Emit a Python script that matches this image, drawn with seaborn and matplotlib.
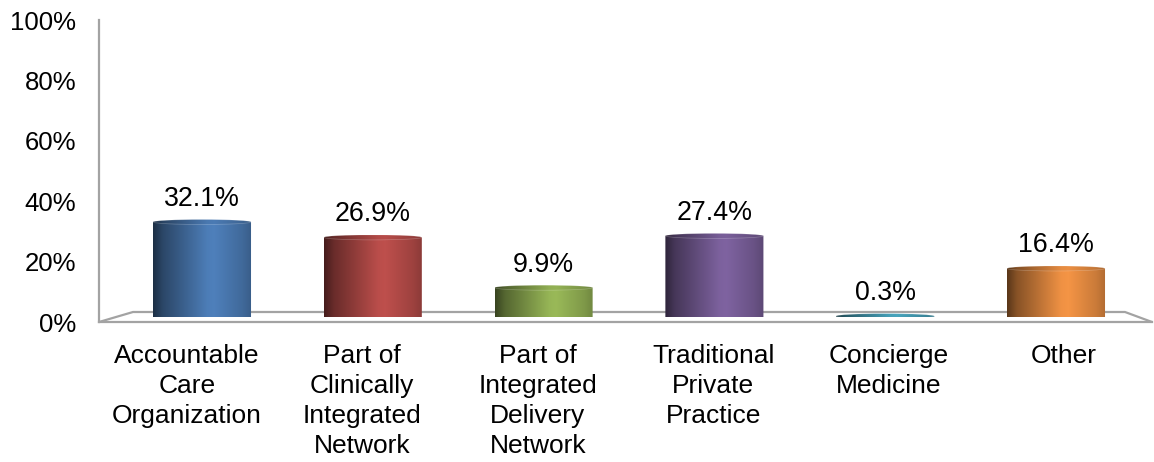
import numpy as np
import matplotlib
matplotlib.use("Agg")
import matplotlib.pyplot as plt
from matplotlib.patches import Polygon, Ellipse
from matplotlib.colors import to_rgb
import seaborn as sns

# ---- data -------------------------------------------------------------
categories = [
    "Accountable Care Organization",
    "Part of Clinically Integrated Network",
    "Part of Integrated Delivery Network",
    "Traditional Private Practice",
    "Concierge Medicine",
    "Other",
]
tick_labels = [
    "Accountable\nCare\nOrganization",
    "Part of\nClinically\nIntegrated\nNetwork",
    "Part of\nIntegrated\nDelivery\nNetwork",
    "Traditional\nPrivate\nPractice",
    "Concierge\nMedicine",
    "Other",
]
shares = [32.1, 26.9, 9.9, 27.4, 0.3, 16.4]
y_ticks = [0, 20, 40, 60, 80, 100]
bar_colors = ["#4F81BD", "#C0504D", "#9BBB59", "#8064A2", "#4BACC6", "#F79646"]

# ---- style ------------------------------------------------------------
sns.set_theme(style="white")
plt.rcParams["font.family"] = ["Liberation Sans", "DejaVu Sans"]
TEXT = "#000000"
FRAME = "#A3A3A3"

W, H = 1154, 462
fig = plt.figure(figsize=(W / 100, H / 100), dpi=100)
fig.patch.set_facecolor("white")


def px_rect(left, top, right, bottom):
    return [left / W, 1 - bottom / H, (right - left) / W, (bottom - top) / H]


# ---- front frame: value axis, floor and category labels -----------------
ax = fig.add_axes(px_rect(99, 20, 1152, 322))
ax.set_xlim(0, len(categories))
ax.set_ylim(0, 100)
ax.set_facecolor("none")
for side in ("top", "right"):
    ax.spines[side].set_visible(False)
for side in ("left", "bottom"):
    ax.spines[side].set_color(FRAME)
    ax.spines[side].set_linewidth(1.6)
ax.set_yticks(y_ticks)
ax.set_yticklabels([f"{v}%" for v in y_ticks], fontsize=18.5, color=TEXT)
ax.set_xticks(np.arange(len(categories)) + 0.5)
ax.set_xticklabels(tick_labels, fontsize=19, color=TEXT, linespacing=1.32)
ax.tick_params(axis="y", length=0, pad=16.5)
ax.tick_params(axis="x", length=0, pad=15.5)

# back edge of the floor
fx = [0, 34 / 1053, 1026 / 1053, 1]
fy = [0, 10 / 302, 10 / 302, 0]
ax.plot(fx, fy, color=FRAME, lw=1.6, transform=ax.transAxes, clip_on=False,
        solid_joinstyle="miter")

# ---- cylinders ----------------------------------------------------------
bx = fig.add_axes(px_rect(116.6, 21, 1141.4, 317))
bx.set_facecolor("none")
sns.barplot(x=categories, y=shares, hue=categories, palette=bar_colors,
            legend=False, width=0.574, saturation=1, ax=bx)

px_per_unit = 296 / 100
cap_h = 5 / px_per_unit  # height of the elliptical caps in value units


def shade(color, gain=1.0, n=256):
    base = np.array(to_rgb(color))
    t = np.linspace(0, 1, n)
    stops_t = [0.0, 0.10, 0.55, 0.62, 0.90, 1.0]
    stops_f = [0.36, 0.55, 0.97, 0.99, 0.82, 0.72]
    f = np.interp(t, stops_t, stops_f) * gain
    return np.clip(base[None, :] * f[:, None], 0, 1)[None, :, :]


for container, value, color in zip(bx.containers, shares, bar_colors):
    for bar in container:
        bar.set_visible(False)
        x0, w = bar.get_x(), bar.get_width()
        h = bar.get_height()
        cx = x0 + w / 2
        theta = np.linspace(np.pi, 2 * np.pi, 80)
        arc = np.column_stack([cx + w / 2 * np.cos(theta),
                               cap_h / 2 * np.sin(theta)])
        outline = np.vstack([[x0, h], arc, [x0 + w, h]])
        body = Polygon(outline, closed=True, transform=bx.transData,
                       facecolor="none", edgecolor="none")
        bx.add_patch(body)
        im = bx.imshow(shade(color), extent=(x0, x0 + w, -cap_h / 2, h),
                       aspect="auto", interpolation="bilinear", zorder=3)
        im.set_clip_path(body)

        top = Ellipse((cx, h), w, cap_h, transform=bx.transData,
                      facecolor="none", edgecolor="none")
        bx.add_patch(top)
        im2 = bx.imshow(shade(color, gain=0.96),
                        extent=(x0, x0 + w, h - cap_h / 2, h + cap_h / 2),
                        aspect="auto", interpolation="bilinear", zorder=4)
        im2.set_clip_path(top)
        rim = Ellipse((cx, h), w, cap_h, transform=bx.transData,
                      facecolor="none", edgecolor=(1, 1, 1, 0.25), lw=0.5,
                      zorder=5)
        bx.add_patch(rim)

        bx.annotate(f"{value:.1f}%", xy=(cx, h), xytext=(0, 11.5),
                    textcoords="offset points", ha="center", va="baseline",
                    fontsize=19.3, color=TEXT, zorder=6)

bx.set_xlim(-0.5, len(categories) - 0.5)
bx.set_ylim(0, 100)
bx.axis("off")

fig.savefig("out.png", dpi=100, facecolor="white")
